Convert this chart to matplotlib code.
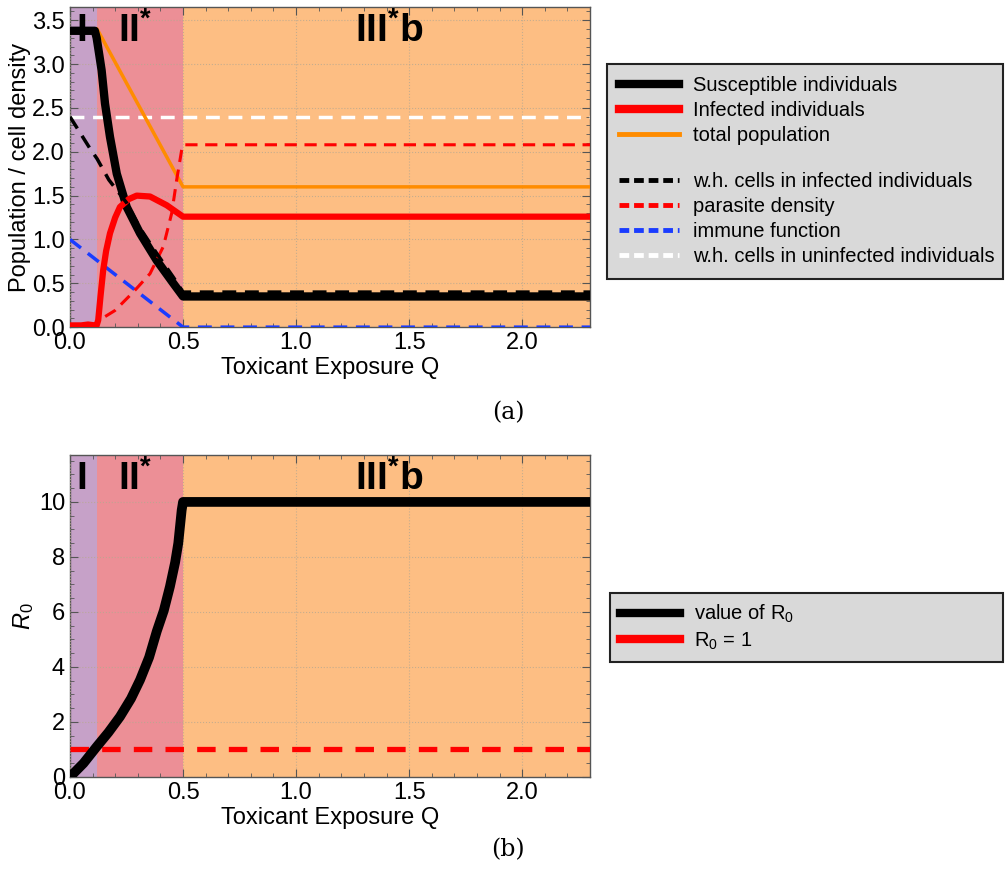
import matplotlib
matplotlib.use("Agg")
import matplotlib.pyplot as plt
from matplotlib.lines import Line2D
from matplotlib.ticker import MultipleLocator

plt.rcParams["font.family"] = ["Liberation Sans", "DejaVu Sans"]
plt.rcParams["mathtext.fontset"] = "custom"
plt.rcParams["mathtext.rm"] = "Liberation Sans"
plt.rcParams["mathtext.it"] = "Liberation Sans:italic"
plt.rcParams["mathtext.bf"] = "Liberation Sans:bold"

# 区間の境界
REGION_EDGES = [0.0, 0.12, 0.5, 2.3]
REGION_COLORS = ["#c6a1c8", "#ec8f96", "#fdbe83"]
REGION_LABELS = [r"$\mathbf{I}$", r"$\mathbf{II}^{\mathbf{*}}$", r"$\mathbf{III}^{\mathbf{*}}\mathbf{b}$"]
REGION_LABEL_X = [0.05, 0.29, 1.41]

# (a) のデータ
Q_S = [0, 0.11, 0.118, 0.13, 0.14, 0.155, 0.177, 0.207, 0.251, 0.31, 0.384, 0.457, 0.5, 2.3]
SUSCEPTIBLE = [3.38, 3.38, 3.3, 3.1, 2.93, 2.55, 2.17, 1.75, 1.37, 1.07, 0.76, 0.5, 0.35, 0.35]

Q_I = [0, 0.05, 0.08, 0.11, 0.118, 0.125, 0.135, 0.147, 0.16, 0.177, 0.2, 0.221, 0.26, 0.295, 0.354, 0.428, 0.5, 2.3]
INFECTED = [0.02, 0.02, 0.03, 0.02, 0.02, 0.08, 0.35, 0.65, 0.87, 1.07, 1.25, 1.37, 1.46, 1.5, 1.49, 1.39, 1.26, 1.26]

Q_TOTAL = [0, 0.12, 0.5, 2.3]
TOTAL = [3.4, 3.4, 1.6, 1.6]

Q_WHI = [0, 0.088, 0.12, 0.172, 0.25, 0.31, 0.384, 0.457, 0.5, 2.3]
WH_INFECTED = [2.4, 2.04, 1.92, 1.68, 1.42, 1.13, 0.84, 0.57, 0.4, 0.4]

Q_P = [0, 0.12, 0.13, 0.199, 0.28, 0.354, 0.413, 0.45, 0.472, 0.494, 0.5, 2.3]
PARASITE = [0.02, 0.02, 0.08, 0.19, 0.4, 0.61, 0.92, 1.3, 1.68, 2.02, 2.08, 2.08]

Q_IMM = [0, 0.5, 2.3]
IMMUNE = [1.0, 0.0, 0.0]

Q_WHU = [0, 2.3]
WH_UNINFECTED = [2.4, 2.4]

# (b) のデータ
Q_R = [0, 0.06, 0.118, 0.17, 0.221, 0.27, 0.31, 0.35, 0.384, 0.415, 0.442, 0.465, 0.479, 0.494, 0.5, 2.3]
R0 = [0, 0.5, 1.1, 1.62, 2.19, 2.85, 3.53, 4.35, 5.3, 6.05, 6.92, 7.8, 8.5, 9.7, 10.0, 10.0]
R0_ONE = [1, 1]


def style_axes(ax, ylim, ymajor, yminor):
    ax.set_xlim(0, 2.3)
    ax.set_ylim(*ylim)
    for (a, b), c in zip(zip(REGION_EDGES[:-1], REGION_EDGES[1:]), REGION_COLORS):
        ax.axvspan(a, b, color=c, lw=0, zorder=0)
    ax.xaxis.set_major_locator(MultipleLocator(0.5))
    ax.xaxis.set_minor_locator(MultipleLocator(0.1))
    ax.yaxis.set_major_locator(MultipleLocator(ymajor))
    ax.yaxis.set_minor_locator(MultipleLocator(yminor))
    ax.tick_params(which="both", direction="in", top=True, right=True, labelsize=17, color="#555555")
    ax.tick_params(which="major", length=6)
    ax.tick_params(which="minor", length=3)
    ax.grid(True, linestyle=":", linewidth=0.8, color="#b8a890", alpha=0.8)
    ax.set_axisbelow(False)
    for sp in ax.spines.values():
        sp.set_color("#555555")
        sp.set_linewidth(1.0)
    ax.set_xlabel("Toxicant Exposure Q", fontsize=17, labelpad=2)


def grey_legend(leg):
    fr = leg.get_frame()
    fr.set_facecolor("#d9d9d9")
    fr.set_edgecolor("#222222")
    fr.set_linewidth(1.5)


fig = plt.figure(figsize=(10.08, 8.89), dpi=100)

# ---- (a) ----
ax1 = fig.add_axes([0.0694, 0.632, 0.516, 0.36])
style_axes(ax1, (0, 3.65), 0.5, 0.1)
dash = (0, (4, 2.5))
ax1.plot(Q_WHU, WH_UNINFECTED, color="white", lw=2.5, ls=dash, zorder=3)
ax1.plot(Q_IMM, IMMUNE, color="#1a3cff", lw=2.5, ls=dash, zorder=3)
ax1.plot(Q_TOTAL, TOTAL, color="#ff8c00", lw=2.5, zorder=3)
ax1.plot(Q_S, SUSCEPTIBLE, color="black", lw=6, zorder=4)
ax1.plot(Q_I, INFECTED, color="red", lw=4.5, zorder=4)
ax1.plot(Q_P, PARASITE, color="red", lw=2.2, ls=dash, zorder=5)
ax1.plot(Q_WHI, WH_INFECTED, color="black", lw=2.5, ls=dash, zorder=5)
ax1.set_ylabel("Population / cell density", fontsize=17, labelpad=1)
for x, lab in zip(REGION_LABEL_X, REGION_LABELS):
    ax1.text(x, 3.38, lab, fontsize=28, ha="center", va="center", zorder=6)

handles_a = [
    Line2D([], [], color="black", lw=6),
    Line2D([], [], color="red", lw=6),
    Line2D([], [], color="#ff8c00", lw=3.5),
    Line2D([], [], color="none"),
    Line2D([], [], color="black", lw=3.5, ls=(0, (2, 1))),
    Line2D([], [], color="red", lw=3.5, ls=(0, (2, 1))),
    Line2D([], [], color="#1a3cff", lw=3.5, ls=(0, (2, 1))),
    Line2D([], [], color="white", lw=3.5, ls=(0, (2, 1))),
]
labels_a = ["Susceptible individuals", "Infected individuals", "total population", " ",
            "w.h. cells in infected individuals", "parasite density", "immune function",
            "w.h. cells in uninfected individuals"]
leg = fig.legend(handles_a, labels_a, loc="upper left", bbox_to_anchor=(0.602, 0.928, 0.393, 0),
                 mode="expand", borderaxespad=0, fontsize=14.5, handlelength=3.0,
                 handletextpad=0.7, labelspacing=0.3, borderpad=0.6, fancybox=False, framealpha=1)
leg.get_texts()[3].set_fontsize(2)
grey_legend(leg)

fig.text(0.504, 0.536, "(a)", fontsize=17, ha="center", va="center", family="DejaVu Serif")

# ---- (b) ----
ax2 = fig.add_axes([0.0694, 0.126, 0.516, 0.362])
style_axes(ax2, (0, 11.7), 2, 0.5)
ax2.plot(Q_WHU, R0_ONE, color="red", lw=3.8, ls=(0, (3.5, 2.5)), zorder=3)
ax2.plot(Q_R, R0, color="black", lw=7, zorder=4)
ax2.set_ylabel(r"$R_0$", fontsize=17, labelpad=2)
for x, lab in zip(REGION_LABEL_X, REGION_LABELS):
    ax2.text(x, 10.85, lab, fontsize=28, ha="center", va="center", zorder=6)

handles_b = [Line2D([], [], color="black", lw=6), Line2D([], [], color="red", lw=6)]
labels_b = [r"value of R$_0$", r"R$_0$ = 1"]
leg2 = fig.legend(handles_b, labels_b, loc="upper left", bbox_to_anchor=(0.605, 0.333, 0.39, 0),
                  mode="expand", borderaxespad=0, fontsize=14.5, handlelength=3.0,
                  handletextpad=0.7, labelspacing=0.25, borderpad=0.5, fancybox=False, framealpha=1)
grey_legend(leg2)

fig.text(0.504, 0.044, "(b)", fontsize=17, ha="center", va="center", family="DejaVu Serif")

fig.savefig("out.png", dpi=100)
